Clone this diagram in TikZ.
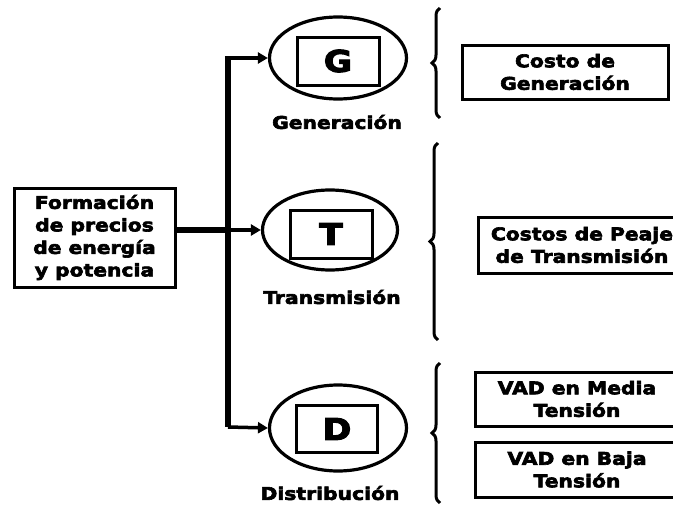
\documentclass[tikz,border=0pt]{standalone}
\usepackage{fontspec}
\usetikzlibrary{arrows.meta,shapes.geometric,decorations.pathreplacing}
\newfontfamily\hf{DejaVu Sans Bold}[FakeStretch=1.16,FakeBold=3.5]
\begin{document}
\begin{tikzpicture}[x=1pt,y=-1pt,
  txt/.style={font=\hf\fontsize{17.5}{22.5}\selectfont,align=center,inner sep=0pt},
  bx/.style={txt,draw,line width=3pt,inner sep=0pt},
  ell/.style={draw,ellipse,line width=3.2pt,inner sep=0pt},
  letterbox/.style={draw,line width=3pt,minimum width=82pt,minimum height=48pt,inner sep=0pt,font=\hf\fontsize{30}{32}\selectfont},
  bus/.style={line width=6.5pt},
  arr/.style={line width=3.5pt,-{Triangle[length=10pt,width=11pt]}},
  brc/.style={line width=3pt,decorate,decoration={brace,amplitude=8pt}}
]
\useasboundingbox[fill=white] (0,0) rectangle (673,506);

% left box
\node[bx,minimum width=161pt,minimum height=99pt] (fp) at (94.5,237.5) {Formación\\de precios\\de energía\\y potencia};

% ellipses with letter boxes
\node[ell,minimum width=137pt,minimum height=82pt] (eG) at (338,58) {};
\node[letterbox] (rG) at (338,61) {G};
\node[ell,minimum width=135pt,minimum height=80pt] (eT) at (330,230) {};
\node[letterbox] (rT) at (331,234) {T};
\node[ell,minimum width=137pt,minimum height=86pt] (eD) at (338,428) {};
\node[letterbox,minimum width=81pt,minimum height=47pt] (rD) at (337,429) {D};

% labels
\node[txt] (lG) at (337,122) {Generación};
\node[txt] (lT) at (332,297) {Transmisión};
\node[txt] (lD) at (330,493) {Distribución};

% bus and arrows
\coordinate (btop) at (228,58);
\coordinate (bmid) at (228,230);
\coordinate (bbot) at (228,427);
\draw[bus] ([yshift=-1.75pt]btop) -- (bbot);
\draw[bus] (fp.east |- bmid) -- (bmid);
\draw[arr] ([xshift=-3.25pt]btop) -- (eG.west);
\draw[arr] (bmid) -- (eT.west);
\draw[arr] (bbot) -- (eD.west);

% braces
\coordinate (gb1) at (440,118); \coordinate (gb2) at (440,8);
\coordinate (tb1) at (438,340); \coordinate (tb2) at (438,143);
\coordinate (db1) at (440,503); \coordinate (db2) at (440,363);
\draw[brc] (gb1) -- (gb2);
\draw[brc] (tb1) -- (tb2);
\draw[brc] (db1) -- (db2);

% right boxes
\node[bx,minimum width=206pt,minimum height=54pt] (cg) at (565,72) {Costo de\\Generación};
\node[bx,minimum width=208pt,minimum height=56pt] (cp) at (582,245) {Costos de Peaje\\de Transmisión};
\node[bx,minimum width=204pt,minimum height=54pt] (vm) at (577,399) {VAD en Media\\Tensión};
\node[bx,minimum width=204pt,minimum height=55pt] (vb) at (577,469.5) {VAD en Baja\\Tensión};
\end{tikzpicture}
\end{document}
